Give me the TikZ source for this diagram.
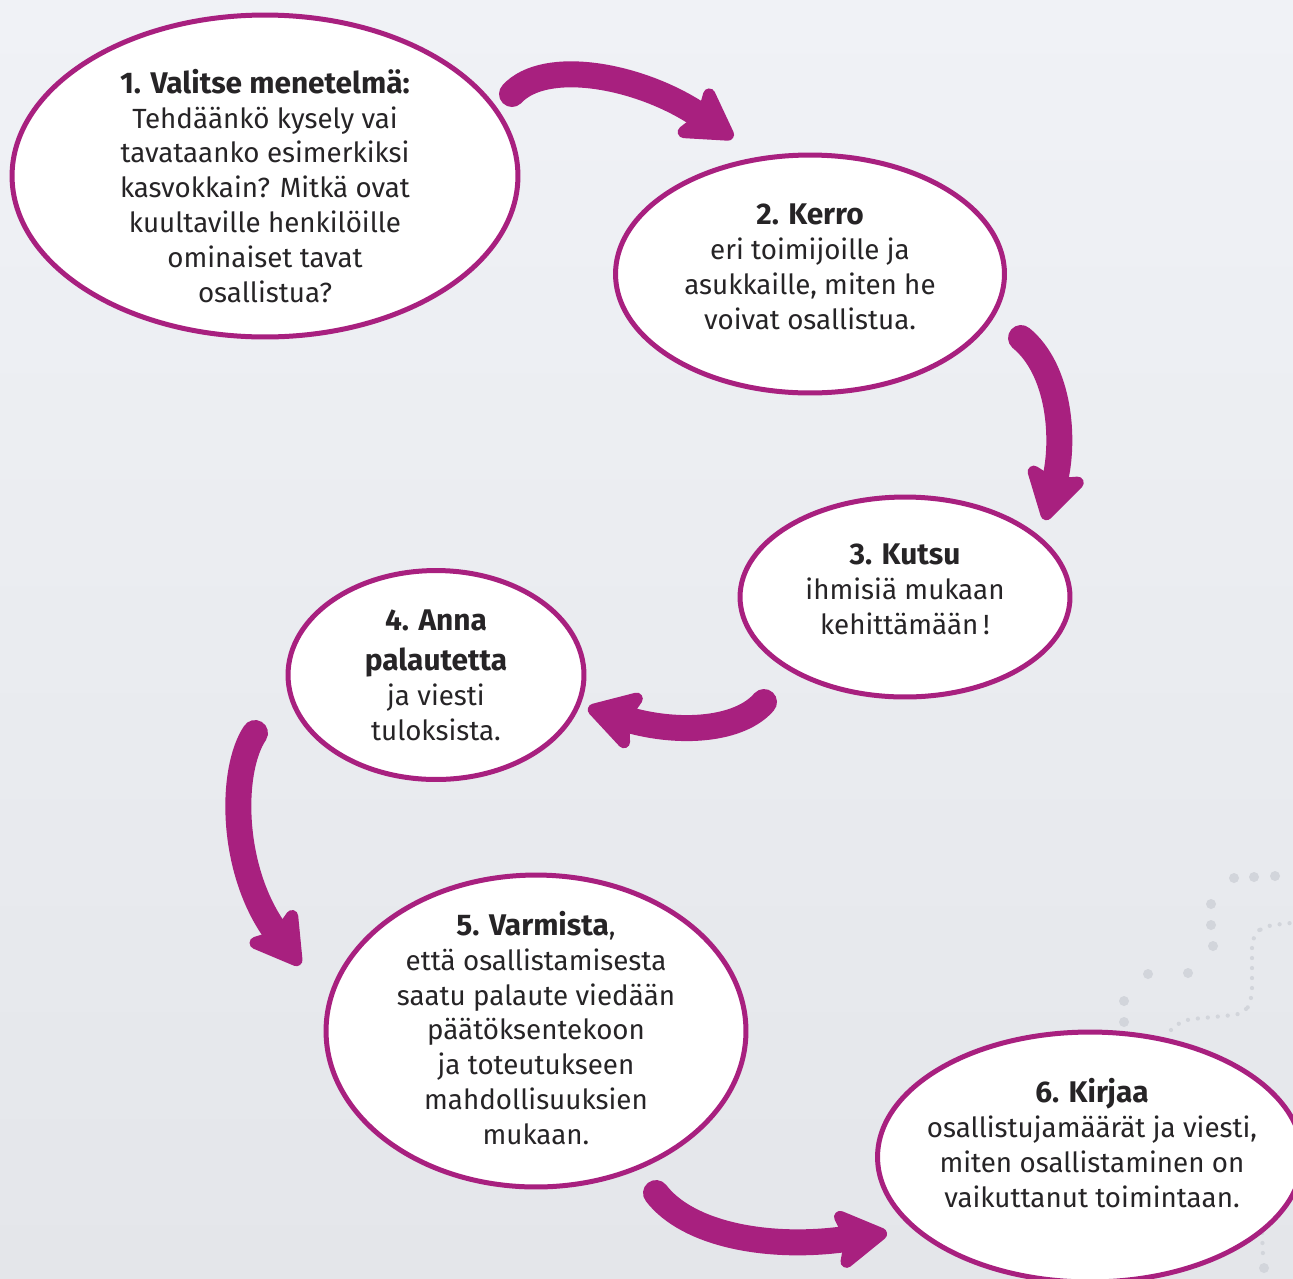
\documentclass[tikz,border=0pt]{standalone}
\usepackage{fontspec}
\setmainfont{Fira Sans}
\usetikzlibrary{shapes.geometric,arrows.meta}
\definecolor{purp}{HTML}{A8207F}
\definecolor{bgtop}{HTML}{F0F2F6}
\definecolor{bgbot}{HTML}{E4E6EA}
\definecolor{dotgray}{HTML}{D2D5DB}
\definecolor{ink}{HTML}{262426}
\newcommand{\hd}[1]{{\fontsize{17}{19.9}\selectfont\bfseries #1}}

\begin{document}
\begin{tikzpicture}[x=0.02cm,y=-0.02cm]
	\tikzstyle{bubble}=[ellipse, draw=purp, line width=0.1cm, fill=white, inner sep=0pt]
	\tikzstyle{txt}=[align=center, text=ink, inner sep=0pt, font=\fontsize{15.8}{19.9}\selectfont]
	\tikzstyle{curvy}=[purp, line width=0.52cm, line cap=round, -{Stealth[length=1.2cm, width=1.4cm, inset=0.22cm, round]}]
	\tikzstyle{bigdot}=[dotgray]
	\useasboundingbox (0,0) rectangle (1293,1278);
	\clip (0,0) rectangle (1293,1278);
	\shade [top color=bgtop, bottom color=bgbot] (0,0) rectangle (1293,1278);
	\foreach \p in {(1234,878),(1254,877),(1275,876),(1211,904),(1211,925),(1213,946),(1148,974),(1188,973),(1124,1001),(1124,1022),(1264,1268)}
		\fill [bigdot] \p circle [radius=0.1cm];
	\draw [dotgray, line width=0.085cm, line cap=round, dash pattern=on 0pt off 0.2cm, rounded corners=0.2cm]
		(1171,1030) -- (1182,1020) -- (1244,1014) -- (1252,1000) -- (1252,936) -- (1264,926) -- (1300,922);
	\draw [dotgray, line width=0.085cm, line cap=round, dash pattern=on 0pt off 0.2cm] (1262,1233) -- (1263,1256);

	\node [bubble, minimum width=10.12cm, minimum height=6.44cm] (e1) at (265,176) {};
	\node [bubble, minimum width=7.78cm, minimum height=4.76cm] (e2) at (810,274) {};
	\node [bubble, minimum width=6.6cm, minimum height=4cm] (e3) at (905,597) {};
	\node [bubble, minimum width=5.92cm, minimum height=4.18cm] (e4) at (436,675) {};
	\node [bubble, minimum width=8.4cm, minimum height=6.24cm] (e5) at (536,1031) {};
	\node [bubble, minimum width=8.5cm, minimum height=5cm] (e6) at (1090,1157) {};

	\node [txt] (t1) at (265,186) {\hd{1. Valitse menetelmä:}\\Tehdäänkö kysely vai\\tavataanko esimerkiksi\\kasvokkain? Mitkä ovat\\kuultaville henkilöille\\ominaiset tavat\\osallistua?};
	\node [txt] (t2) at (810,267) {\hd{2. Kerro}\\eri toimijoille ja\\asukkaille, miten he\\voivat osallistua.};
	\node [txt] (t3) at (905,589) {\hd{3. Kutsu}\\ihmisiä mukaan\\kehittämään\,!};
	\node [txt] (t4) at (436,675) {\hd{4. Anna}\\[1mm]\hd{palautetta}\\ja viesti\\tuloksista.};
	\node [txt] (t5) at (536,1028) {\hd{5. Varmista},\\että osallistamisesta\\saatu palaute viedään\\päätöksentekoon\\ja toteutukseen\\mahdollisuuksien\\mukaan.};
	\node [txt] (t6) at (1092,1143) {\hd{6. Kirjaa}\\osallistujamäärät ja viesti,\\miten osallistaminen on\\vaikuttanut toimintaan.};

	\coordinate (a1s) at (512,94);   \coordinate (a1e) at (733,138);
	\coordinate (a2s) at (1021,338); \coordinate (a2e) at (1045,520);
	\coordinate (a3s) at (764,702);  \coordinate (a3e) at (588,708);
	\coordinate (a4s) at (255,733);  \coordinate (a4e) at (300,965);
	\coordinate (a5s) at (656,1193); \coordinate (a5e) at (887,1233);
	\draw [curvy] (a1s) .. controls (545,58) and (640,75) .. (a1e);
	\draw [curvy] (a2s) .. controls (1060,370) and (1065,440) .. (a2e);
	\draw [curvy] (a3s) .. controls (740,730) and (680,735) .. (a3e);
	\draw [curvy] (a4s) .. controls (230,770) and (230,870) .. (a4e);
	\draw [curvy] (a5s) .. controls (688,1235) and (770,1250) .. (a5e);
\end{tikzpicture}
\end{document}
